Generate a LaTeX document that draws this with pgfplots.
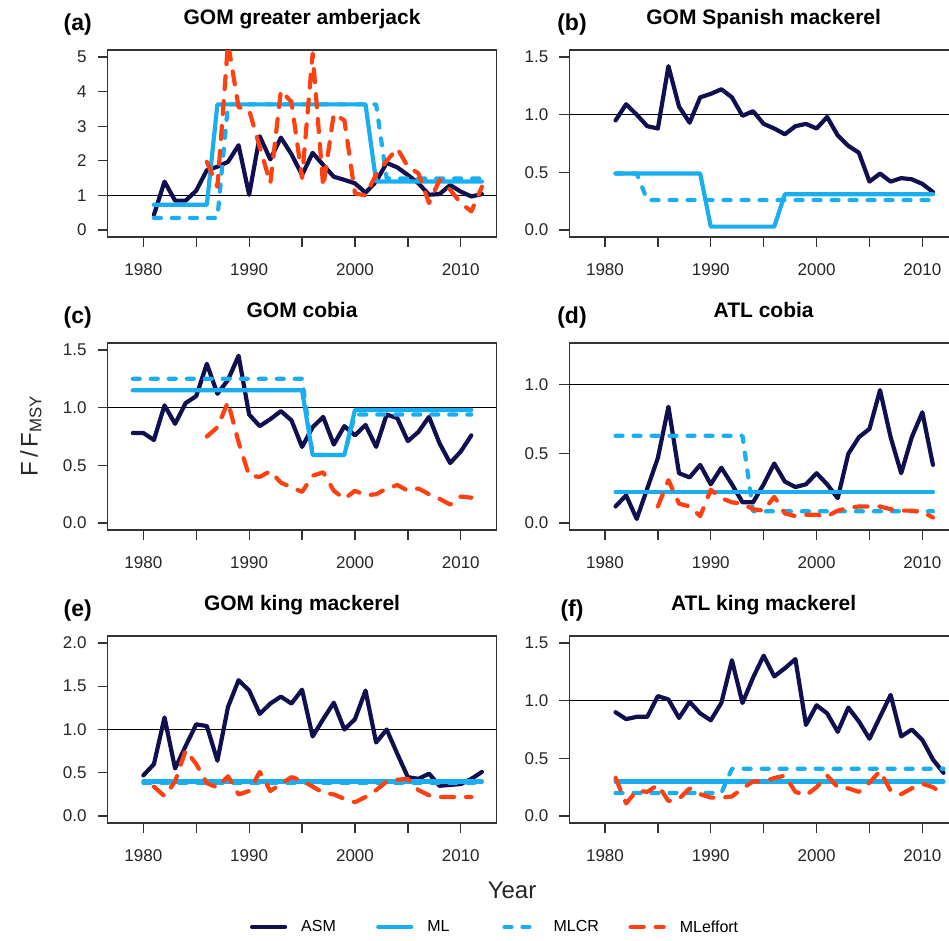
\documentclass[border=0pt]{standalone}
\usepackage{fontspec}
\setmainfont{Liberation Sans}
\usepackage{pgfplots}
\pgfplotsset{compat=1.18}
\definecolor{cASM}{HTML}{101050}
\definecolor{cML}{HTML}{1AADEF}
\definecolor{cMLE}{HTML}{FF4010}
\newcommand{\tickfont}{\fontsize{17}{20}\selectfont}
\newcommand{\titlefont}{\fontsize{21}{25}\selectfont\bfseries}
\newcommand{\labfont}{\fontsize{23}{27}\selectfont\bfseries}
\tikzset{
  sASM/.style={color=cASM, line width=4.2pt, line join=round, line cap=round},
  sML/.style={color=cML, line width=4.2pt, line join=round, line cap=round},
  sMLCR/.style={color=cML, line width=4.2pt, line join=round, line cap=round, dash pattern=on 7pt off 11pt},
  sMLE/.style={color=cMLE, line width=4.2pt, line join=round, line cap=round, dash pattern=on 13pt off 12pt},
  sREF/.style={color=black, line width=1.2pt},
}
\pgfplotsset{
  panel/.style={
    scale only axis, width=388.5pt, height=187pt,
    xmin=1976.64, xmax=2013.36,
    anchor=north west,
    clip mode=individual,
    axis line style={draw=black!80, line width=1.3pt},
    every tick/.style={draw=black!80, line width=1.3pt},
    tick align=outside, major tick length=10pt,
    xtick pos=lower, ytick pos=left,
    xtick={1980,1985,1990,1995,2000,2005,2010},
    xticklabels={1980,,1990,,2000,,2010},
    ticklabel style={font=\tickfont, text=black!85},
    xticklabel style={anchor=north, inner sep=0pt, yshift=-16pt},
    yticklabel style={anchor=east, inner sep=0pt, xshift=-11pt},
    title style={font=\titlefont, at={(0.5,1)}, anchor=base, yshift=20pt, inner sep=0pt},
  },
  yA/.style={ymin=-0.2, ymax=5.2, ytick={0,1,2,3,4,5}, yticklabels={0,1,2,3,4,5}},
  yB/.style={ymin=-0.06, ymax=1.56, ytick={0,0.5,1,1.5}, yticklabels={0.0,0.5,1.0,1.5}},
  yD/.style={ymin=-0.05, ymax=1.3, ytick={0,0.5,1}, yticklabels={0.0,0.5,1.0}},
  yE/.style={ymin=-0.08, ymax=2.08, ytick={0,0.5,1,1.5,2}, yticklabels={0.0,0.5,1.0,1.5,2.0}},
}
\begin{document}
\begin{tikzpicture}
\path[use as bounding box] (0pt,0pt) rectangle (949pt,-940pt);

% ---------------- (a) ----------------
\begin{axis}[panel, yA, at={(107.8pt,-50pt)}, title={GOM greater amberjack}]
\addplot[sREF] coordinates {(1970,1) (2020,1)};
\addplot[sASM] coordinates {(1981,0.44)(1982,1.40)(1983,0.85)(1984,0.85)(1985,1.14)(1986,1.73)(1987,1.83)(1988,1.97)(1989,2.45)(1990,1.02)(1991,2.71)(1992,2.04)(1993,2.67)(1994,2.19)(1995,1.59)(1996,2.23)(1997,1.88)(1998,1.54)(1999,1.45)(2000,1.35)(2001,1.08)(2002,1.40)(2003,1.94)(2004,1.81)(2005,1.59)(2006,1.35)(2007,1.02)(2008,1.04)(2009,1.30)(2010,1.11)(2011,0.97)(2012,1.04)};
\addplot[sML] coordinates {(1981,0.73)(1982,0.73)(1983,0.73)(1984,0.73)(1985,0.73)(1986,0.73)(1987,3.63)(1988,3.63)(1989,3.63)(1990,3.63)(1991,3.63)(1992,3.63)(1993,3.63)(1994,3.63)(1995,3.63)(1996,3.63)(1997,3.63)(1998,3.63)(1999,3.63)(2000,3.63)(2001,3.63)(2002,1.40)(2003,1.40)(2004,1.40)(2005,1.40)(2006,1.40)(2007,1.40)(2008,1.40)(2009,1.40)(2010,1.40)(2011,1.40)(2012,1.40)};
\addplot[sMLCR] coordinates {(1981,0.35)(1982,0.35)(1983,0.35)(1984,0.35)(1985,0.35)(1986,0.35)(1987,0.35)(1988,3.63)(1989,3.63)(1990,3.63)(1991,3.63)(1992,3.63)(1993,3.63)(1994,3.63)(1995,3.63)(1996,3.63)(1997,3.63)(1998,3.63)(1999,3.63)(2000,3.63)(2001,3.63)(2002,3.63)(2003,1.49)(2004,1.49)(2005,1.49)(2006,1.49)(2007,1.49)(2008,1.49)(2009,1.49)(2010,1.49)(2011,1.49)(2012,1.49)};
\addplot[sMLE] coordinates {(1986,1.97)(1987,1.25)(1988,5.4)(1989,3.55)(1990,3.46)(1991,2.4)(1992,1.35)(1993,4.03)(1994,3.7)(1995,1.5)(1996,5.1)(1997,1.25)(1998,3.36)(1999,3.17)(2000,1.06)(2001,1.0)(2002,1.6)(2003,2.0)(2004,2.36)(2005,1.83)(2006,1.64)(2007,0.78)(2008,1.45)(2009,1.16)(2010,0.78)(2011,0.54)(2012,1.25)};
\node[font=\labfont, anchor=base, inner sep=0pt] at (rel axis cs:0,1) [xshift=-30pt, yshift=20pt] {(a)};
\end{axis}

% ---------------- (b) ----------------
\begin{axis}[panel, yB, at={(569.4pt,-50pt)}, title={GOM Spanish mackerel}]
\addplot[sREF] coordinates {(1970,1) (2020,1)};
\addplot[sASM] coordinates {(1981,0.95)(1982,1.09)(1983,1.00)(1984,0.90)(1985,0.88)(1986,1.42)(1987,1.07)(1988,0.93)(1989,1.15)(1990,1.18)(1991,1.22)(1992,1.15)(1993,0.99)(1994,1.03)(1995,0.92)(1996,0.88)(1997,0.83)(1998,0.90)(1999,0.92)(2000,0.88)(2001,0.98)(2002,0.82)(2003,0.73)(2004,0.67)(2005,0.42)(2006,0.49)(2007,0.42)(2008,0.45)(2009,0.44)(2010,0.40)(2011,0.33)};
\addplot[sML] coordinates {(1981,0.49)(1982,0.49)(1983,0.49)(1984,0.49)(1985,0.49)(1986,0.49)(1987,0.49)(1988,0.49)(1989,0.49)(1990,0.03)(1991,0.03)(1992,0.03)(1993,0.03)(1994,0.03)(1995,0.03)(1996,0.03)(1997,0.31)(1998,0.31)(1999,0.31)(2000,0.31)(2001,0.31)(2002,0.31)(2003,0.31)(2004,0.31)(2005,0.31)(2006,0.31)(2007,0.31)(2008,0.31)(2009,0.31)(2010,0.31)(2011,0.31)};
\addplot[sMLCR] coordinates {(1981,0.49)(1982,0.49)(1983,0.49)(1984,0.26)(1985,0.26)(1986,0.26)(1987,0.26)(1988,0.26)(1989,0.26)(1990,0.26)(1991,0.26)(1992,0.26)(1993,0.26)(1994,0.26)(1995,0.26)(1996,0.26)(1997,0.26)(1998,0.26)(1999,0.26)(2000,0.26)(2001,0.26)(2002,0.26)(2003,0.26)(2004,0.26)(2005,0.26)(2006,0.26)(2007,0.26)(2008,0.26)(2009,0.26)(2010,0.26)(2011,0.26)};
\node[font=\labfont, anchor=base, inner sep=0pt] at (rel axis cs:0,1) [xshift=2.6pt, yshift=20pt] {(b)};
\end{axis}

% ---------------- (c) ----------------
\begin{axis}[panel, yB, at={(107.8pt,-343pt)}, title={GOM cobia}]
\addplot[sREF] coordinates {(1970,1) (2020,1)};
\addplot[sASM] coordinates {(1979,0.78)(1980,0.78)(1981,0.72)(1982,1.02)(1983,0.86)(1984,1.04)(1985,1.10)(1986,1.38)(1987,1.12)(1988,1.24)(1989,1.45)(1990,0.94)(1991,0.84)(1992,0.90)(1993,0.97)(1994,0.89)(1995,0.66)(1996,0.83)(1997,0.92)(1998,0.68)(1999,0.84)(2000,0.76)(2001,0.85)(2002,0.66)(2003,0.94)(2004,0.91)(2005,0.71)(2006,0.79)(2007,0.92)(2008,0.69)(2009,0.52)(2010,0.62)(2011,0.76)};
\addplot[sML] coordinates {(1979,1.15)(1980,1.15)(1981,1.15)(1982,1.15)(1983,1.15)(1984,1.15)(1985,1.15)(1986,1.15)(1987,1.15)(1988,1.15)(1989,1.15)(1990,1.15)(1991,1.15)(1992,1.15)(1993,1.15)(1994,1.15)(1995,1.15)(1996,0.59)(1997,0.59)(1998,0.59)(1999,0.59)(2000,0.98)(2001,0.98)(2002,0.98)(2003,0.98)(2004,0.98)(2005,0.98)(2006,0.98)(2007,0.98)(2008,0.98)(2009,0.98)(2010,0.98)(2011,0.98)};
\addplot[sMLCR] coordinates {(1979,1.25)(1980,1.25)(1981,1.25)(1982,1.25)(1983,1.25)(1984,1.25)(1985,1.25)(1986,1.25)(1987,1.25)(1988,1.25)(1989,1.25)(1990,1.25)(1991,1.25)(1992,1.25)(1993,1.25)(1994,1.25)(1995,1.25)(1996,0.59)(1997,0.59)(1998,0.59)(1999,0.59)(2000,0.94)(2001,0.94)(2002,0.94)(2003,0.94)(2004,0.94)(2005,0.94)(2006,0.94)(2007,0.94)(2008,0.94)(2009,0.94)(2010,0.94)(2011,0.94)};
\addplot[sMLE] coordinates {(1986,0.75)(1987,0.83)(1988,1.05)(1989,0.70)(1990,0.41)(1991,0.40)(1992,0.45)(1993,0.35)(1994,0.31)(1995,0.27)(1996,0.41)(1997,0.44)(1998,0.28)(1999,0.21)(2000,0.28)(2001,0.24)(2002,0.25)(2003,0.30)(2004,0.33)(2005,0.28)(2006,0.30)(2007,0.25)(2008,0.21)(2009,0.16)(2010,0.23)(2011,0.22)};
\node[font=\labfont, anchor=base, inner sep=0pt] at (rel axis cs:0,1) [xshift=-30pt, yshift=20pt] {(c)};
\end{axis}

% ---------------- (d) ----------------
\begin{axis}[panel, yD, at={(569.4pt,-343pt)}, title={ATL cobia}]
\addplot[sREF] coordinates {(1970,1) (2020,1)};
\addplot[sASM] coordinates {(1981,0.12)(1982,0.20)(1983,0.03)(1984,0.25)(1985,0.47)(1986,0.84)(1987,0.36)(1988,0.33)(1989,0.42)(1990,0.28)(1991,0.40)(1992,0.28)(1993,0.15)(1994,0.15)(1995,0.28)(1996,0.43)(1997,0.30)(1998,0.26)(1999,0.28)(2000,0.36)(2001,0.28)(2002,0.18)(2003,0.50)(2004,0.62)(2005,0.68)(2006,0.96)(2007,0.62)(2008,0.36)(2009,0.62)(2010,0.80)(2011,0.42)};
\addplot[sML] coordinates {(1981,0.224)(2011,0.224)};
\addplot[sMLCR] coordinates {(1981,0.63)(1982,0.63)(1983,0.63)(1984,0.63)(1985,0.63)(1986,0.63)(1987,0.63)(1988,0.63)(1989,0.63)(1990,0.63)(1991,0.63)(1992,0.63)(1993,0.63)(1994,0.085)(1995,0.085)(1996,0.085)(1997,0.085)(1998,0.085)(1999,0.085)(2000,0.085)(2001,0.085)(2002,0.085)(2003,0.085)(2004,0.085)(2005,0.085)(2006,0.085)(2007,0.085)(2008,0.085)(2009,0.085)(2010,0.085)(2011,0.085)};
\addplot[sMLE] coordinates {(1985,0.12)(1986,0.31)(1987,0.14)(1988,0.12)(1989,0.05)(1990,0.24)(1991,0.18)(1992,0.15)(1993,0.14)(1994,0.10)(1995,0.09)(1996,0.19)(1997,0.07)(1998,0.05)(1999,0.06)(2000,0.06)(2001,0.05)(2002,0.09)(2003,0.11)(2004,0.12)(2005,0.12)(2006,0.12)(2007,0.10)(2008,0.09)(2009,0.09)(2010,0.08)(2011,0.04)};
\node[font=\labfont, anchor=base, inner sep=0pt] at (rel axis cs:0,1) [xshift=2.6pt, yshift=20pt] {(d)};
\end{axis}

% ---------------- (e) ----------------
\begin{axis}[panel, yE, at={(107.8pt,-636pt)}, title={GOM king mackerel},
  legend columns=4,
  legend style={at={(0.366,-0.556)}, anchor=west, draw=none, fill=none,
    inner sep=0pt, outer sep=0pt, font=\fontsize{16}{19}\selectfont,
    nodes={inner sep=0pt},
    /tikz/every odd column/.append style={column sep=14pt},
    /tikz/every even column/.append style={column sep=0pt}},
  legend cell align=left,
  legend image code/.code={\draw[#1] (0pt,0pt) -- (33pt,0pt);}]
\addplot[sREF, forget plot] coordinates {(1970,1) (2020,1)};
\addplot[sASM] coordinates {(1980,0.47)(1981,0.60)(1982,1.14)(1983,0.55)(1984,0.81)(1985,1.06)(1986,1.04)(1987,0.64)(1988,1.26)(1989,1.57)(1990,1.45)(1991,1.18)(1992,1.30)(1993,1.38)(1994,1.30)(1995,1.46)(1996,0.92)(1997,1.12)(1998,1.31)(1999,1.00)(2000,1.12)(2001,1.45)(2002,0.85)(2003,1.00)(2004,0.72)(2005,0.45)(2006,0.43)(2007,0.49)(2008,0.35)(2009,0.36)(2010,0.37)(2011,0.43)(2012,0.51)};
\addlegendentry{\makebox[75pt][l]{ASM}}
\addplot[sML] coordinates {(1980,0.40)(2012,0.40)};
\addlegendentry{\makebox[75pt][l]{ML}}
\addplot[sMLCR] coordinates {(1980,0.38)(1990,0.38)(2000,0.38)(2012,0.38)};
\addlegendentry{\makebox[75pt][l]{MLCR}}
\addplot[sMLE] coordinates {(1981,0.34)(1982,0.23)(1983,0.40)(1984,0.76)(1985,0.60)(1986,0.38)(1987,0.33)(1988,0.46)(1989,0.25)(1990,0.29)(1991,0.51)(1992,0.29)(1993,0.37)(1994,0.45)(1995,0.41)(1996,0.34)(1997,0.27)(1998,0.25)(1999,0.20)(2000,0.16)(2001,0.22)(2002,0.30)(2003,0.40)(2004,0.42)(2005,0.43)(2006,0.30)(2007,0.24)(2008,0.22)(2009,0.22)(2010,0.22)(2011,0.22)};
\addlegendentry{\makebox[75pt][l]{MLeffort}}
\node[font=\labfont, anchor=base, inner sep=0pt] at (rel axis cs:0,1) [xshift=-30pt, yshift=20pt] {(e)};
\end{axis}

% ---------------- (f) ----------------
\begin{axis}[panel, yB, at={(569.4pt,-636pt)}, title={ATL king mackerel}]
\addplot[sREF] coordinates {(1970,1) (2020,1)};
\addplot[sASM] coordinates {(1981,0.90)(1982,0.84)(1983,0.86)(1984,0.86)(1985,1.04)(1986,1.01)(1987,0.85)(1988,0.99)(1989,0.89)(1990,0.83)(1991,0.98)(1992,1.35)(1993,0.98)(1994,1.20)(1995,1.39)(1996,1.21)(1997,1.28)(1998,1.36)(1999,0.79)(2000,0.96)(2001,0.89)(2002,0.73)(2003,0.94)(2004,0.82)(2005,0.67)(2006,0.86)(2007,1.05)(2008,0.69)(2009,0.75)(2010,0.66)(2011,0.49)(2012,0.375)};
\addplot[sML] coordinates {(1981,0.30)(2012,0.30)};
\addplot[sMLCR] coordinates {(1981,0.20)(1982,0.20)(1983,0.20)(1984,0.20)(1985,0.20)(1986,0.20)(1987,0.20)(1988,0.20)(1989,0.20)(1990,0.20)(1991,0.20)(1992,0.41)(1993,0.41)(1994,0.41)(1995,0.41)(1996,0.41)(1997,0.41)(1998,0.41)(1999,0.41)(2000,0.41)(2001,0.41)(2002,0.41)(2003,0.41)(2004,0.41)(2005,0.41)(2006,0.41)(2007,0.41)(2008,0.41)(2009,0.41)(2010,0.41)(2011,0.41)(2012,0.41)};
\addplot[sMLE] coordinates {(1981,0.33)(1982,0.11)(1983,0.22)(1984,0.21)(1985,0.27)(1986,0.13)(1987,0.15)(1988,0.24)(1989,0.19)(1990,0.16)(1991,0.16)(1992,0.17)(1993,0.24)(1994,0.30)(1995,0.30)(1996,0.33)(1997,0.35)(1998,0.21)(1999,0.18)(2000,0.25)(2001,0.35)(2002,0.25)(2003,0.24)(2004,0.21)(2005,0.29)(2006,0.39)(2007,0.22)(2008,0.19)(2009,0.24)(2010,0.28)(2011,0.25)(2012,0.19)};
\node[font=\labfont, anchor=base, inner sep=0pt] at (rel axis cs:0,1) [xshift=2.6pt, yshift=20pt] {(f)};
\end{axis}

\node[rotate=90, font=\fontsize{24}{28}\selectfont, text=black!85] at (31pt,-436pt) {F\,/\,F\textsubscript{MSY}};
\node[anchor=base, font=\fontsize{24}{28}\selectfont, text=black!85] at (512pt,-898pt) {Year};
\end{tikzpicture}
\end{document}
